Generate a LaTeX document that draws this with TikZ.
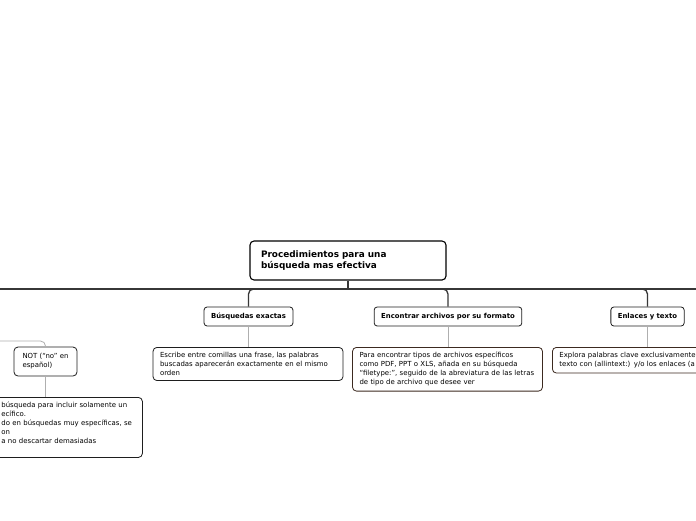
\documentclass[tikz,border=0pt]{standalone}
\usepackage{fontspec}
\setmainfont{DejaVu Sans}
\usepackage{tikz}
\usetikzlibrary{positioning,calc}
\definecolor{trunkgray}{RGB}{55, 55, 55}
\definecolor{twiggray}{RGB}{175, 175, 175}
\definecolor{boxdark}{RGB}{30, 30, 30}
\definecolor{notebrown}{RGB}{60, 42, 32}

\begin{document}
\begin{tikzpicture}[x=1pt, y=-1pt,
    rootbox/.style={rectangle, rounded corners=4pt, draw=black, line width=1.1pt, fill=white,
                    minimum width=196pt, minimum height=39pt, text width=174pt, align=left,
                    inner xsep=11pt, font=\fontsize{8.9}{11}\selectfont\bfseries},
    topic/.style={rectangle, rounded corners=3pt, draw=boxdark, line width=0.8pt, fill=white,
                  minimum height=19pt, inner xsep=7pt, inner ysep=2pt,
                  font=\fontsize{6.9}{8}\selectfont\bfseries},
    note/.style={rectangle, rounded corners=4pt, draw=notebrown, line width=0.8pt, fill=white,
                 text width=176pt, align=left, inner xsep=7pt, inner ysep=5pt,
                 font=\fontsize{6.95}{8.9}\selectfont},
    trunk/.style={draw=trunkgray, line width=1.3pt},
    twig/.style={draw=twiggray, line width=0.8pt}
]
\useasboundingbox (0,0) rectangle (696,520);
\clip (0,0) rectangle (696,520);
\fill[white] (0,0) rectangle (696,520);

\coordinate (hub) at (348,289);
\coordinate (lend) at (-10,289);
\coordinate (rend) at (706,289);
\coordinate (notend) at (-10,341);

\node[rootbox] (root) at (348,260.5) {Procedimientos para una\\búsqueda mas efectiva};

\node[topic] (exact) at (248.5,316.5) {Búsquedas exactas};
\node[topic] (format) at (448,316.5) {Encontrar archivos por su formato};
\node[topic] (links) at (647.5,316.5) {Enlaces y texto};
\node[topic, font=\fontsize{6.95}{8.9}\selectfont, align=left, minimum width=63pt, minimum height=29pt, rounded corners=4pt, inner xsep=8pt] (notop) at (45.5,361.5) {NOT (“no” en\\español)};

\node[note, draw=boxdark, anchor=north] (exactnote) at (248,347) {Escribe entre comillas una frase, las palabras\\buscadas aparecerán exactamente en el mismo\\orden};
\node[note, anchor=north] (formatnote) at (447.5,347) {Para encontrar tipos de archivos específicos\\como PDF, PPT o XLS, añada en su búsqueda\\“filetype:”, seguido de la abreviatura de las letras\\de tipo de archivo que desee ver};
\node[note, anchor=north west] (linksnote) at (552,347) {Explora palabras clave exclusivamente\\texto con (allintext:) y/o los enlaces (a};
\node[note, draw=boxdark, anchor=north west, text width=132pt, inner xsep=9pt, inner ysep=5pt] (notnote) at (-8,397) {búsqueda para incluir solamente un\\ecífico.\\do en búsquedas muy específicas, se\\on\\a no descartar demasiadas\\\mbox{}};

% main connector
\draw[trunk] (lend) -- (rend);
\draw[trunk] (root.south) -- (hub);
\draw[trunk, rounded corners=5pt] (hub) -| (exact.north);
\draw[trunk, rounded corners=5pt] (hub) -| (format.north);
\draw[trunk, rounded corners=5pt] (hub) -| (links.north);

% notes
\draw[twig] (exact.south) -- (exact.south |- exactnote.north);
\draw[twig] (format.south) -- (format.south |- formatnote.north);
\draw[twig] (links.south) -- (links.south |- linksnote.north);
\draw[twig, rounded corners=5pt] (notend) -| (notop.north);
\draw[twig] (notop.south) -- (notop.south |- notnote.north);
\end{tikzpicture}
\end{document}
